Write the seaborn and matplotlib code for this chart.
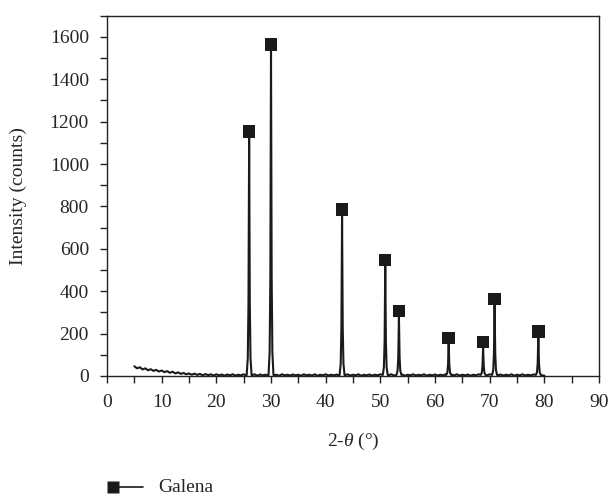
import seaborn as sns
import pandas as pd
import numpy as np
import matplotlib.pyplot as plt
from matplotlib.lines import Line2D
from matplotlib.ticker import MultipleLocator

# background of the scan, read every 0.5 deg from 5 to 80
base_start = 5.0
base_step = 0.5
base_counts = [46, 36, 41, 31, 36, 27, 32, 24, 29, 21,
               26, 18, 23, 15, 20, 12, 17, 10, 14, 8,
               12, 6, 11, 5, 10, 3, 9, 4, 8, 2,
               8, 3, 7, 1, 7, 3, 8, 2, 6, 3,
               8, 2, 6, 3, 8, 1, 7, 3, 6, 2,
               8, 3, 6, 1, 8, 3, 6, 2, 7, 3,
               6, 1, 8, 3, 6, 2, 8, 1, 6, 3,
               8, 2, 6, 3, 7, 1, 6, 3, 8, 2,
               6, 3, 8, 1, 6, 3, 7, 2, 6, 3,
               8, 1, 6, 3, 8, 2, 6, 3, 7, 1,
               6, 3, 8, 2, 6, 3, 8, 1, 6, 3,
               7, 2, 6, 3, 8, 1, 6, 3, 8, 2,
               6, 3, 7, 1, 6, 3, 8, 2, 6, 3,
               8, 1, 6, 3, 7, 2, 6, 3, 8, 1,
               6, 3, 8, 2, 6, 3, 7, 1, 6, 3, 2]

# galena reflections: position, peak top, marker height
peak_pos = [26.0, 30.0, 43.0, 50.9, 53.4, 62.5, 68.8, 70.9, 78.9]
peak_top = [1125, 1537, 758, 518, 278, 152, 132, 334, 182]
marker_y = [1153, 1565, 786, 546, 306, 180, 160, 362, 210]

# peak shape (offset in deg, fraction of peak top)
shape_dx = [-0.45, -0.25, -0.12, 0.0, 0.12, 0.25, 0.45]
shape_frac = [0.0, 0.07, 0.3, 1.0, 0.3, 0.07, 0.0]

xs, ys = [], []
for i, c in enumerate(base_counts):
    x = base_start + i * base_step
    if all(abs(x - p) > 0.45 for p in peak_pos):
        xs.append(x)
        ys.append(c)
for p, h in zip(peak_pos, peak_top):
    for dx, f in zip(shape_dx, shape_frac):
        xs.append(p + dx)
        ys.append(5 + f * h)
scan = pd.DataFrame({'two_theta': xs, 'counts': ys}).sort_values('two_theta')
marks = pd.DataFrame({'two_theta': peak_pos, 'counts': marker_y})

sns.set_style('ticks')
plt.rcParams['font.family'] = ['Liberation Serif', 'DejaVu Serif']
plt.rcParams['mathtext.fontset'] = 'custom'
plt.rcParams['mathtext.rm'] = 'Liberation Serif'
plt.rcParams['mathtext.it'] = 'Liberation Serif:italic'
plt.rcParams['font.size'] = 14

fig = plt.figure(figsize=(6.09, 4.94), dpi=100)
ax = fig.add_axes([0.1757, 0.2389, 0.8079, 0.7293])

sns.lineplot(data=scan, x='two_theta', y='counts', color='#1a1a1a', lw=1.5,
             estimator=None, sort=True, ax=ax)
sns.scatterplot(data=marks, x='two_theta', y='counts', marker='s', s=80,
                color='#1a1a1a', edgecolor='none', ax=ax, zorder=3)

ax.set_xlim(0, 90)
ax.set_ylim(0, 1700)
ax.xaxis.set_major_locator(MultipleLocator(10))
ax.xaxis.set_minor_locator(MultipleLocator(5))
ax.yaxis.set_major_locator(MultipleLocator(200))
ax.yaxis.set_minor_locator(MultipleLocator(100))
ax.set_yticks(np.arange(0, 1601, 200))
ax.tick_params(which='both', direction='out', length=5, width=1, color='#222222',
               top=False, right=False, labelsize=14, pad=8)
for s in ax.spines.values():
    s.set_linewidth(1)
    s.set_color('#222222')
ax.set_xlabel(r'2-$\theta$ (°)', fontsize=14, labelpad=14)
ax.set_ylabel('Intensity (counts)', fontsize=14, labelpad=16)

# legend drawn under the plot
yl = 1 - 487 / 494
fig.add_artist(Line2D([119 / 609, 143 / 609], [yl, yl], color='#1a1a1a', lw=1.2,
                      transform=fig.transFigure))
fig.add_artist(Line2D([113 / 609], [yl], marker='s', ms=8.5, color='#1a1a1a',
                      mec='none', transform=fig.transFigure))
fig.text(158 / 609, yl, 'Galena', fontsize=14, va='center', ha='left')

plt.savefig('out.png', dpi=100)
